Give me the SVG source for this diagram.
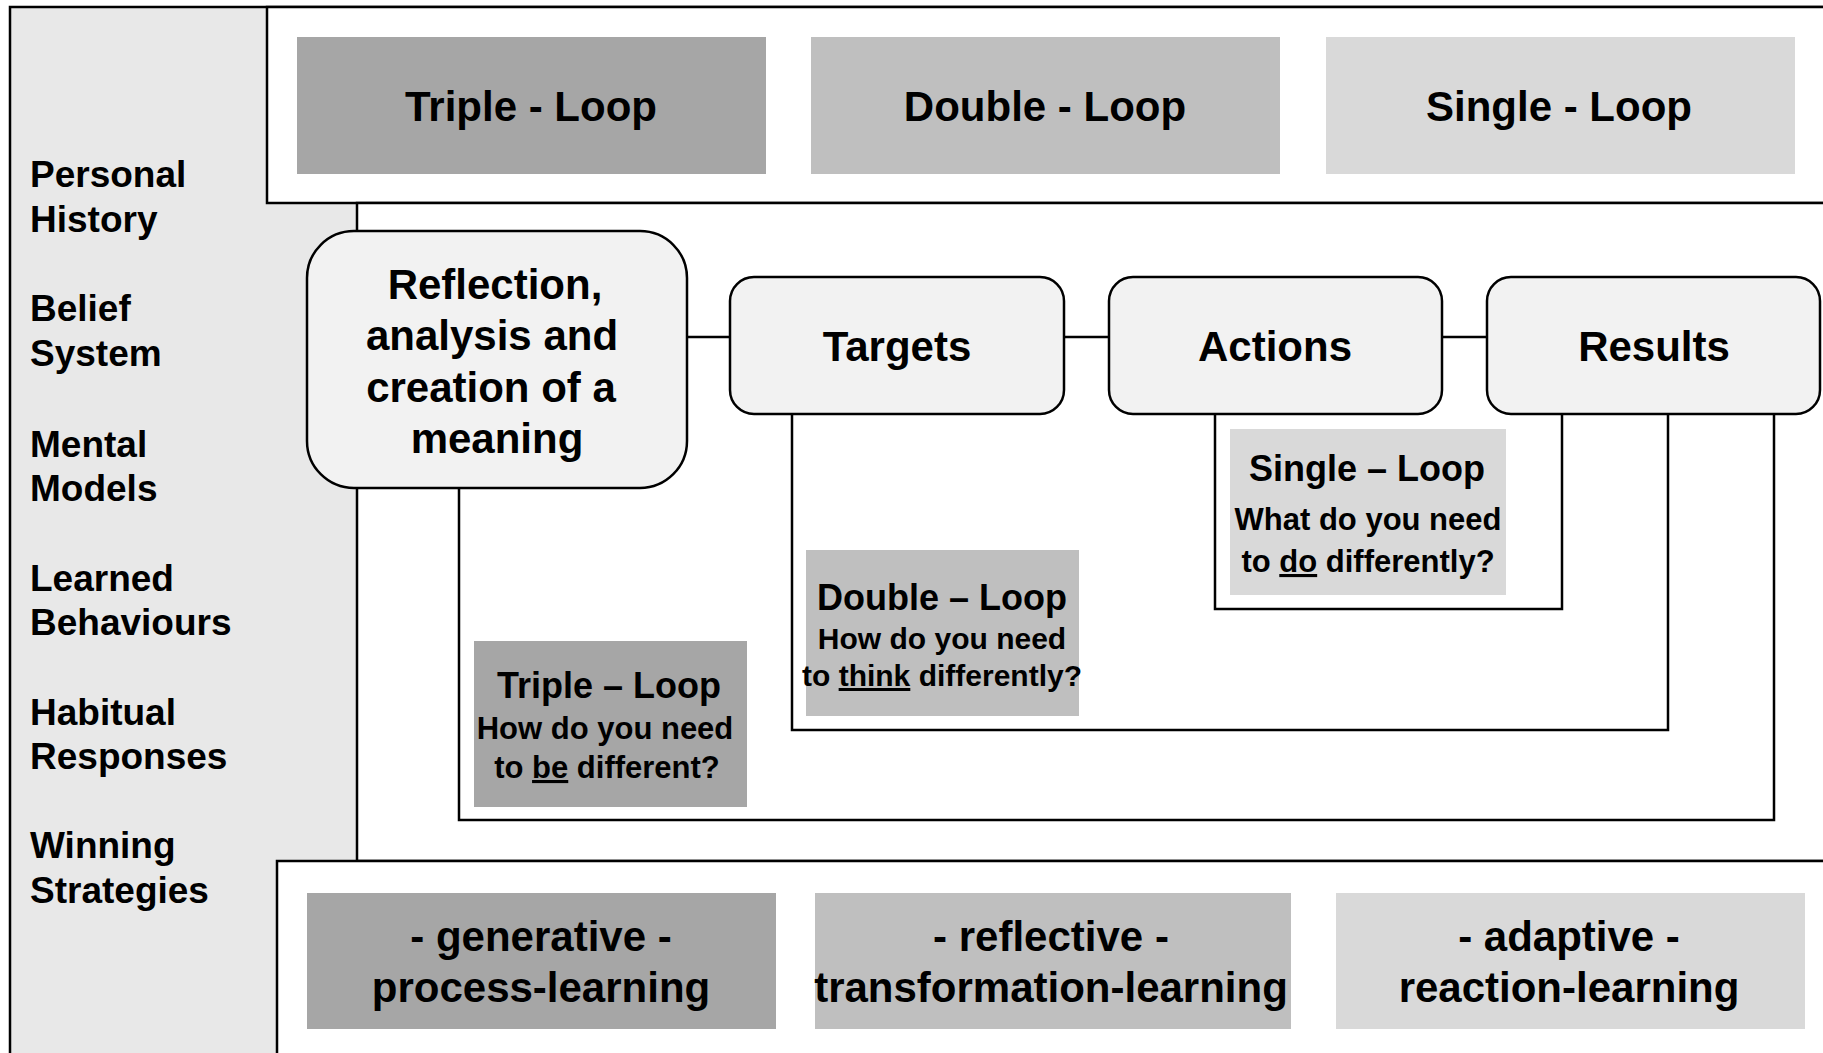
<svg xmlns="http://www.w3.org/2000/svg" width="1823" height="1053" viewBox="0 0 1823 1053">
<style>
text{font-family:"Liberation Sans",Arial,Helvetica,sans-serif;font-weight:bold;fill:#000}
.frame{stroke:#000;stroke-width:2.5}
.node{fill:#F2F2F2;stroke:#000;stroke-width:2.5}
.conn{fill:none;stroke:#000;stroke-width:2.5}
.hd{font-size:42px;text-anchor:middle}
.side{font-size:37px}
.lt{font-size:36px;text-anchor:middle}
.ls{font-size:31px;text-anchor:middle}
.ls2{font-size:30px;text-anchor:middle}
.u{text-decoration:underline}
</style>
<rect width="1823" height="1053" fill="#fff"/>
<g id="panels">
<rect class="frame" x="10" y="7" width="1840" height="1080" fill="#E8E8E8"/>
<rect class="frame" x="267" y="7" width="1600" height="196" fill="#fff"/>
<rect class="frame" x="357" y="203" width="1500" height="658" fill="#fff"/>
<rect class="frame" x="277" y="861" width="1600" height="300" fill="#fff"/>
</g>
<g id="side-labels" class="side">
<text x="30" y="187">Personal</text><text x="30" y="232">History</text>
<text x="30" y="321">Belief</text><text x="30" y="366">System</text>
<text x="30" y="457">Mental</text><text x="30" y="501">Models</text>
<text x="30" y="591">Learned</text><text x="30" y="635">Behaviours</text>
<text x="30" y="725">Habitual</text><text x="30" y="769">Responses</text>
<text x="30" y="858">Winning</text><text x="30" y="903">Strategies</text>
</g>
<g id="header-triple"><rect x="297" y="37" width="469" height="137" fill="#A6A6A6"/><text class="hd" x="531" y="121">Triple - Loop</text></g>
<g id="header-double"><rect x="811" y="37" width="469" height="137" fill="#BFBFBF"/><text class="hd" x="1045" y="121">Double - Loop</text></g>
<g id="header-single"><rect x="1326" y="37" width="469" height="137" fill="#D9D9D9"/><text class="hd" x="1559" y="121">Single - Loop</text></g>
<g id="connectors">
<line class="conn" x1="687" y1="337" x2="730" y2="337"/>
<line class="conn" x1="1064" y1="337" x2="1109" y2="337"/>
<line class="conn" x1="1442" y1="337" x2="1487" y2="337"/>
<path class="conn" d="M1215 414V609H1562V414"/>
<path class="conn" d="M792 414V730H1668V414"/>
<path class="conn" d="M459 488V820H1774V414"/>
</g>
<g id="node-reflection"><rect class="node" x="307" y="231" width="380" height="257" rx="47"/>
<text class="hd" x="495" y="299">Reflection,</text><text class="hd" x="492" y="350">analysis and</text><text class="hd" x="491" y="402">creation of a</text><text class="hd" x="497" y="453">meaning</text></g>
<g id="node-targets"><rect class="node" x="730" y="277" width="334" height="137" rx="24"/><text class="hd" x="897" y="361">Targets</text></g>
<g id="node-actions"><rect class="node" x="1109" y="277" width="333" height="137" rx="24"/><text class="hd" x="1275" y="361">Actions</text></g>
<g id="node-results"><rect class="node" x="1487" y="277" width="333" height="137" rx="24"/><text class="hd" x="1654" y="361">Results</text></g>
<g id="label-single"><rect x="1230" y="429" width="276" height="166" fill="#D9D9D9"/>
<text class="lt" x="1367" y="481">Single – Loop</text><text class="ls" x="1368" y="530">What do you need</text><text class="ls" x="1368" y="572">to <tspan class="u">do</tspan> differently?</text></g>
<g id="label-double"><rect x="806" y="550" width="273" height="166" fill="#BFBFBF"/>
<text class="lt" x="942" y="610">Double – Loop</text><text class="ls2" x="942" y="649">How do you need</text><text class="ls2" x="942" y="686">to <tspan class="u">think</tspan> differently?</text></g>
<g id="label-triple"><rect x="474" y="641" width="273" height="166" fill="#A6A6A6"/>
<text class="lt" x="609" y="698">Triple – Loop</text><text class="ls" x="605" y="739">How do you need</text><text class="ls" x="607" y="778">to <tspan class="u">be</tspan> different?</text></g>
<g id="bottom-generative"><rect x="307" y="893" width="469" height="136" fill="#A6A6A6"/><text class="hd" x="541" y="951">- generative -</text><text class="hd" x="541" y="1002">process-learning</text></g>
<g id="bottom-reflective"><rect x="815" y="893" width="476" height="136" fill="#BFBFBF"/><text class="hd" x="1051" y="951">- reflective -</text><text class="hd" x="1051" y="1002">transformation-learning</text></g>
<g id="bottom-adaptive"><rect x="1336" y="893" width="469" height="136" fill="#D9D9D9"/><text class="hd" x="1569" y="951">- adaptive -</text><text class="hd" x="1569" y="1002">reaction-learning</text></g>
</svg>
